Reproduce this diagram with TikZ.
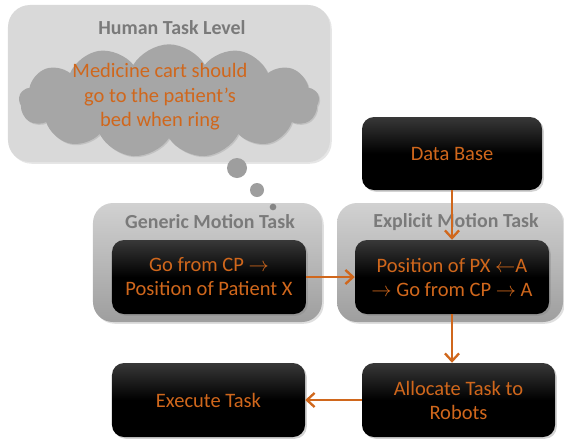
\documentclass[tikz,border=0pt]{standalone}
\usepackage{fontspec}
\setmainfont{Carlito}
\usepackage{tikz}
\usetikzlibrary{arrows.meta, shapes.symbols, shadows}
\definecolor{TaskOrange}{HTML}{D0671C}
\definecolor{TitleGray}{HTML}{7A7A7A}
\definecolor{PanelGray}{HTML}{D9D9D9}
\definecolor{CloudGray}{HTML}{A6A6A6}

\begin{document}
\begin{tikzpicture}[x=0.03cm, y=-0.03cm,
    panel/.style={rounded corners=0.6cm, top color=black!18, bottom color=black!38,
        drop shadow={opacity=0.25, shadow xshift=1.5pt, shadow yshift=-1.5pt}},
    blackbox/.style={rounded corners=0.36cm, top color=black!78, bottom color=black,
        middle color=black, minimum width=5.82cm, minimum height=2.22cm,
        text=TaskOrange, align=center, font=\fontsize{17.5}{20.5}\selectfont,
        drop shadow={opacity=0.35, shadow xshift=1.5pt, shadow yshift=-1.5pt}},
    title/.style={text=TitleGray, font=\fontsize{17}{20}\selectfont\bfseries},
    flow/.style={-{Straight Barb[length=6.5pt, width=12pt]}, line width=2pt, TaskOrange}]
    \useasboundingbox (0,0) rectangle (564,441);

    % Human task level
    \node[fill=PanelGray, rounded corners=0.66cm, minimum width=9.66cm, minimum height=4.71cm,
        drop shadow={opacity=0.2, shadow xshift=1.5pt, shadow yshift=-1.5pt}] (human) at (169,83.5) {};
    \node[title] (humantitle) at (172,28) {Human Task Level};
    \node[cloud, cloud puffs=13, cloud puff arc=120, aspect=2.5, fill=CloudGray,
        minimum width=9.0cm, minimum height=3.4cm, inner sep=0pt,
        drop shadow={opacity=0.25, shadow xshift=1pt, shadow yshift=-1pt}] (wish) at (169,101) {};
    \node[text=TaskOrange, align=center, font=\fontsize{17.5}{20.8}\selectfont] (wishtext) at (160,97)
        {Medicine cart should\\go to the patient’s\\bed when ring};

    % Motion task panels
    \node[panel, minimum width=6.87cm, minimum height=3.57cm] (generic) at (207.5,262.5) {};
    \node[title] (generictitle) at (210,222) {Generic Motion Task};
    \node[panel, minimum width=6.78cm, minimum height=3.57cm] (explicit) at (450,262.5) {};
    \node[title] (explicittitle) at (456,222) {Explicit Motion Task};

    % Thought bubbles
    \fill[CloudGray!95!black] (237,168) circle (0.3cm);
    \fill[CloudGray!95!black] (257,190) circle (0.21cm);
    \fill[CloudGray!80!black] (273,207) circle (0.1cm);

    % Black boxes
    \node[blackbox] (genin) at (209,277) {Go from CP $\rightarrow$\\Position of Patient X};
    \node[blackbox] (expin) at (452,277) {Position of PX $\leftarrow$A\\$\rightarrow$ Go from CP $\rightarrow$ A};
    \node[blackbox, minimum width=5.4cm, minimum height=2.19cm] (db) at (452,153.5) {Data Base};
    \node[blackbox, minimum width=5.79cm] (alloc) at (458.5,400) {Allocate Task to\\Robots};
    \node[blackbox, minimum width=5.79cm] (exec) at (208.5,400) {Execute Task};

    % Arrows
    \draw[flow] (db) -- (expin);
    \draw[flow] (genin) -- (expin);
    \draw[flow] (expin.south) -- (expin.south |- alloc.north);
    \draw[flow] (alloc) -- (exec);
\end{tikzpicture}
\end{document}
